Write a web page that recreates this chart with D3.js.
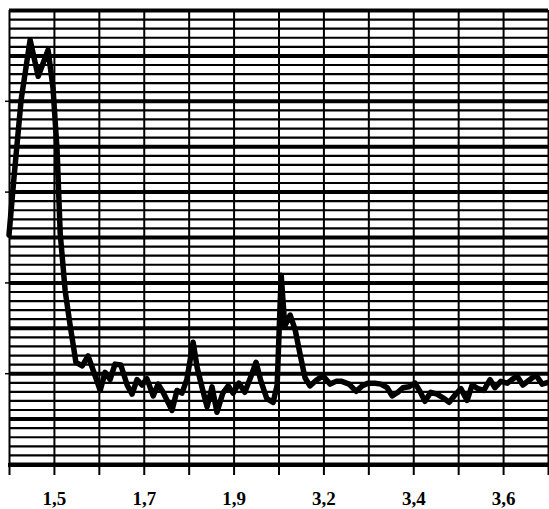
<!DOCTYPE html>
<meta charset="utf-8">
<style>
body {
  margin: 0;
  background: #fff;
}
.grid line {
  stroke: #000;
}
.grid path {
  display: none;
}
.series {
  fill: none;
  stroke: #000;
  stroke-width: 5.5px;
  stroke-linejoin: round;
  stroke-linecap: round;
}
.xaxis text {
  font: bold 19px "Liberation Serif", "Times New Roman", serif;
  fill: #000;
}
</style>
<svg></svg>
<script src="https://cdn.jsdelivr.net/npm/d3@7"></script>
<script>

// category ticks along the bottom, only every other one is labelled
var tickLabels = ["", "1,5", "", "1,7", "", "1,9", "", "3,2", "", "3,4", "", "3,6", ""];

// series (x in tick units, y in minor grid units)
var xs = [0, 0.11, 0.27, 0.47, 0.65, 0.87, 0.98, 1.07, 1.14, 1.25,
          1.36, 1.49, 1.63, 1.76, 1.89, 2.03, 2.14, 2.25, 2.36, 2.49,
          2.63, 2.74, 2.85, 2.96, 3.07, 3.21, 3.32, 3.43, 3.54, 3.63,
          3.74, 3.85, 3.96, 4.10, 4.19, 4.30, 4.41, 4.52, 4.63, 4.76,
          4.88, 4.99, 5.12, 5.25, 5.39, 5.50, 5.61, 5.74, 5.88, 5.97,
          6.06, 6.14, 6.26, 6.37, 6.48, 6.59, 6.70, 6.86, 6.99, 7.15,
          7.28, 7.41, 7.57, 7.73, 7.86, 7.99, 8.15, 8.28, 8.42, 8.53,
          8.66, 8.77, 8.90, 9.04, 9.15, 9.26, 9.39, 9.53, 9.66, 9.80,
          9.93, 10.06, 10.20, 10.31, 10.44, 10.57, 10.71, 10.82, 10.95, 11.09,
          11.20, 11.31, 11.44, 11.60, 11.73, 11.87, 12];

var ys = [25.2, 31.5, 40.1, 46.7, 42.7, 45.6, 41.4, 34.6, 25.4, 19.1,
          15.3, 11.2, 10.8, 11.9, 10.1, 8.1, 10.1, 9.3, 11.0, 10.9,
          8.7, 7.7, 9.3, 8.7, 9.4, 7.5, 8.8, 7.9, 6.8, 5.9,
          8.1, 7.8, 9.3, 13.4, 10.6, 8.4, 6.3, 8.5, 5.7, 7.8,
          8.6, 7.8, 8.9, 7.9, 9.7, 11.2, 9.1, 7.2, 6.8, 8.7,
          20.8, 15.2, 16.4, 14.8, 12.1, 9.5, 8.6, 9.3, 9.7, 8.8,
          9.1, 9.1, 8.8, 8.0, 8.6, 8.9, 8.9, 8.8, 8.4, 7.5,
          7.9, 8.4, 8.5, 8.9, 8.0, 6.9, 7.9, 7.7, 7.3, 6.8,
          7.6, 8.3, 7.0, 8.7, 8.3, 8.1, 9.3, 8.4, 9.1, 8.9,
          9.3, 9.7, 8.7, 9.3, 9.8, 8.8, 9.0];

var width = 549,
    height = 509;

var mLeft = 9, mRight = 548, mTop = 10, mBottom = 464;

var svg = d3.select("svg")
    .attr("width", width)
    .attr("height", height);

var x = d3.scaleLinear()
    .domain([0, 12])
    .range([mLeft, mRight]);

var y = d3.scaleLinear()
    .domain([0, 50])
    .range([mBottom, mTop]);

// horizontal grid, every fifth line heavier
svg.append("g")
    .attr("class", "grid")
    .attr("transform", "translate(" + mLeft + ",0)")
    .call(d3.axisLeft(y).tickValues(d3.range(0, 51)).tickSize(-(mRight - mLeft)).tickFormat(""))
    .selectAll("line")
    .style("stroke-width", function(d) { return d % 5 == 0 ? 4 : 2.2; });

// vertical grid
svg.append("g")
    .attr("class", "grid")
    .attr("transform", "translate(0," + mBottom + ")")
    .call(d3.axisBottom(x).tickValues(d3.range(0, 13)).tickSize(-(mBottom - mTop)).tickFormat(""))
    .selectAll("line")
    .style("stroke-width", 2);

// little ticks on the left of the frame
svg.append("g")
    .attr("class", "grid")
    .attr("transform", "translate(" + mLeft + ",0)")
    .call(d3.axisLeft(y).tickValues([10, 20, 30, 40]).tickSize(4).tickFormat(""))
    .selectAll("line")
    .style("stroke-width", 1.5);

// bottom axis with labels
var xAxis = svg.append("g")
    .attr("class", "grid xaxis")
    .attr("transform", "translate(0," + mBottom + ")")
    .call(d3.axisBottom(x)
        .tickValues(d3.range(0, 13))
        .tickSize(11)
        .tickFormat(function(d) { return tickLabels[d]; }));

xAxis.selectAll("line").style("stroke-width", 2);
xAxis.selectAll("text").attr("y", 41).attr("dy", 0);

// thick base line
svg.append("line")
    .attr("x1", mLeft - 1).attr("x2", mRight + 1)
    .attr("y1", mBottom + 1).attr("y2", mBottom + 1)
    .style("stroke", "#000")
    .style("stroke-width", 4);

var data = xs.map(function(d, i) { return [d, ys[i]]; });

var line = d3.line()
    .x(function(d) { return x(d[0]); })
    .y(function(d) { return y(d[1]); });

svg.append("path")
    .datum(data)
    .attr("class", "series")
    .attr("d", line);

</script>
